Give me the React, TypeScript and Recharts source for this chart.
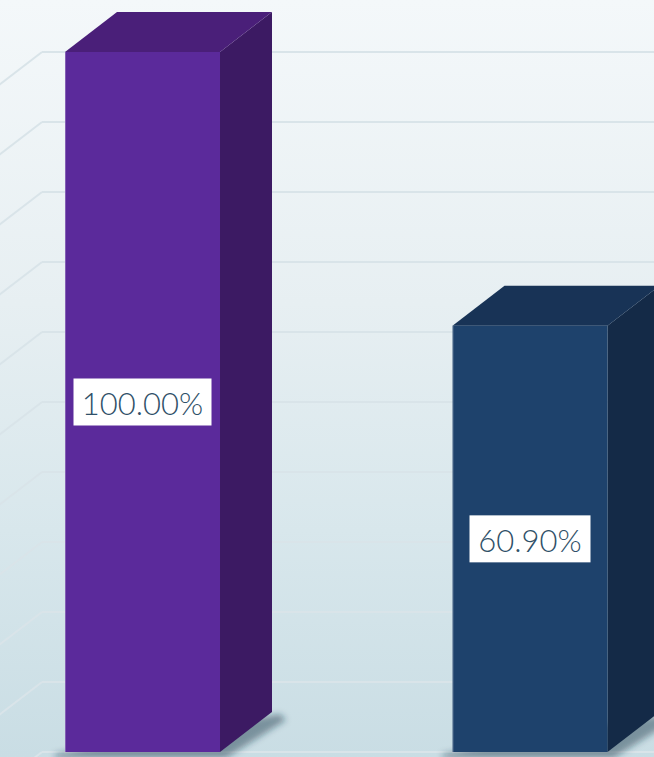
import { BarChart, Bar, XAxis, YAxis, CartesianGrid, LabelList } from 'recharts';

const categories = ['A', 'B'];
const values = [100, 60.9];
const yTicks = [0, 10, 20, 30, 40, 50, 60, 70, 80, 90, 100];

const data = categories.map((name, i) => ({ name, value: values[i] }));

// 3d look
const DX = 52;
const DY = 40;
const WALL_X = 42;
const FRONT = ['#5b2a9b', '#1e426c'];
const TOP = ['#4a1f79', '#183356'];
const SIDE = ['#3c1a63', '#142a47'];

function Bar3D(props: any) {
  const { x, y, width: w, height: h, index } = props;
  if (h <= 0) return null;
  const b = y + h;
  return (
    <g>
      <polygon
        points={`${x - 10},${b + 2} ${x + w + DX + 8},${b - DY + 2} ${x + w + DX + 14},${b - DY + 8} ${x + w + 6},${b + 6} ${x - 10},${b + 6}`}
        fill="rgba(20,50,70,0.45)"
        filter="url(#soft)"
      />
      <polygon points={`${x + w},${y} ${x + w + DX},${y - DY} ${x + w + DX},${b - DY} ${x + w},${b}`} fill={SIDE[index]} />
      <polygon points={`${x},${y} ${x + DX},${y - DY} ${x + w + DX},${y - DY} ${x + w},${y}`} fill={TOP[index]} />
      <rect x={x} y={y} width={w} height={h} fill={FRONT[index]} />
      <line x1={x + 0.5} y1={y} x2={x + 0.5} y2={b} stroke="rgba(255,255,255,0.25)" />
    </g>
  );
}

function PctLabel(props: any) {
  const { x, y, width, height, value } = props;
  const txt = `${Number(value).toFixed(2)}%`;
  const bw = txt.length * 17 + 19;
  const bh = 47;
  const cx = x + width / 2;
  const cy = y + height / 2;
  return (
    <g>
      <rect x={cx - bw / 2} y={cy - bh / 2} width={bw} height={bh} fill="#ffffff" />
      <text
        x={cx}
        y={cy + 1}
        textAnchor="middle"
        dominantBaseline="central"
        fontFamily="Lato, 'Noto Sans', sans-serif"
        fontWeight={300}
        fontSize={31}
        fill="#2f5068"
      >
        {txt}
      </text>
    </g>
  );
}

function GridLine(props: any) {
  const { y1, index } = props;
  return (
    <g key={`gl-${index}`}>
      <line x1={WALL_X} y1={y1} x2={660} y2={y1} stroke="#d9e4e9" strokeWidth={2} />
      <line x1={WALL_X} y1={y1} x2={WALL_X - DX} y2={y1 + DY} stroke="#d9e4e9" strokeWidth={2} />
    </g>
  );
}

export default function App() {
  return (
    <div
      style={{
        position: 'absolute',
        left: 0,
        top: 0,
        width: 654,
        height: 757,
        overflow: 'hidden',
        background: 'linear-gradient(180deg, #f4f8fa 0%, #e7eff2 40%, #d8e7ec 70%, #c9dde4 100%)',
      }}
    >
      <BarChart
        width={654}
        height={757}
        data={data}
        margin={{ top: 52, right: -70, bottom: 5, left: -51 }}
        barSize={155}
      >
        <defs>
          <filter id="soft" x="-20%" y="-50%" width="140%" height="200%">
            <feGaussianBlur stdDeviation="3" />
          </filter>
        </defs>
        <CartesianGrid vertical={false} horizontal={GridLine} />
        <XAxis dataKey="name" hide />
        <YAxis hide domain={[0, 100]} ticks={yTicks} />
        <Bar dataKey="value" shape={Bar3D} isAnimationActive={false}>
          <LabelList dataKey="value" content={PctLabel} />
        </Bar>
      </BarChart>
    </div>
  );
}
